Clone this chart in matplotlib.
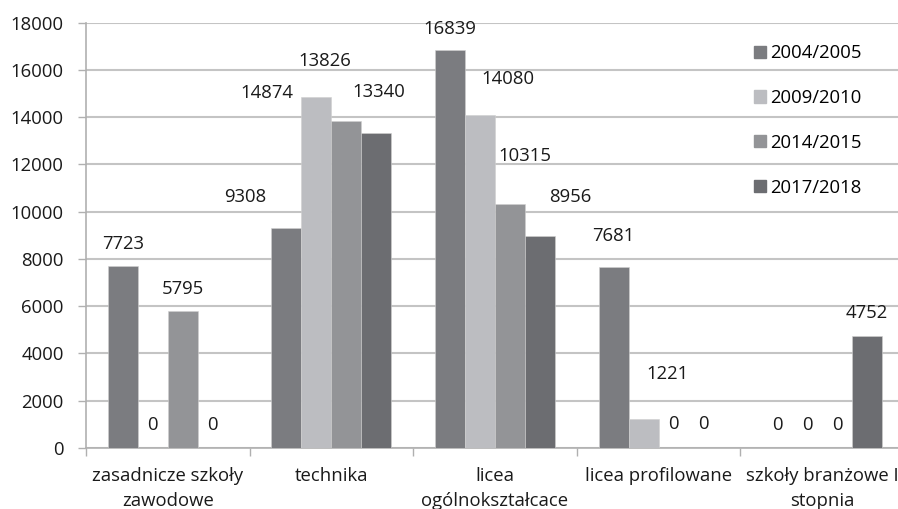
import matplotlib.pyplot as plt
import numpy as np
from matplotlib.patches import Patch

plt.rcParams['font.family'] = ['Open Sans', 'DejaVu Sans']
plt.rcParams['font.size'] = 13.3

categories = ["zasadnicze szkoły\nzawodowe", "technika", "licea\nogólnokształcace",
              "licea profilowane", "szkoły branżowe I\nstopnia"]
years = ["2004/2005", "2009/2010", "2014/2015", "2017/2018"]
v2004 = [7723, 9308, 16839, 7681, 0]
v2009 = [0, 14874, 14080, 1221, 0]
v2014 = [5795, 13826, 10315, 0, 0]
v2017 = [0, 13340, 8956, 0, 4752]

colors = ["#7b7c80", "#bcbdc1", "#939497", "#6c6d71"]
# label offsets (pixels) from the top centre of each bar
label_offsets = [
    [(0, 22), (-41, 31), (0, 21), (0, 31), (0, 23)],
    [(0, 23), (-50, 4), (28, 36), (24, 45), (0, 23)],
    [(0, 22), (-22, 60), (15, 48), (0, 24), (0, 23)],
    [(0, 23), (2, 41), (30, 39), (0, 24), (0, 23)],
]

W, H = 898, 509
fig = plt.figure(figsize=(W / 100, H / 100), dpi=100)
ax = fig.add_axes([86 / W, (H - 448) / H, 818 / W, (448 - 22.7) / H])

series = [v2004, v2009, v2014, v2017]
x = np.arange(len(categories))
width = 0.1833
for j, (vals, col) in enumerate(zip(series, colors)):
    pos = x + (j - 1.5) * width
    ax.bar(pos, vals, width, color=col, edgecolor='#d0d0d0', linewidth=0.4,
           label=years[j], zorder=3)
    for i, v in enumerate(vals):
        dx, dy = label_offsets[j][i]
        ax.annotate(str(v), (pos[i], v), xytext=(dx, dy), textcoords='offset pixels',
                    ha='center', va='center', color='#1a1a1a', zorder=4)

ax.set_xlim(-0.5, 4.5)
ax.set_ylim(0, 18000)
ax.set_yticks(np.arange(0, 18001, 2000))
ax.yaxis.grid(True, color='#c4c4c4', linewidth=1.5)
ax.set_axisbelow(True)

ax.set_xticks(x)
ax.set_xticklabels(categories, linespacing=1.45)
ax.set_xticks(np.arange(-0.5, 5, 1), minor=True)
ax.tick_params(axis='x', which='major', length=0, pad=14, colors='#1a1a1a')
ax.tick_params(axis='x', which='minor', length=6, width=1, color='#b0b0b0')
ax.tick_params(axis='y', length=6, width=1, color='#b0b0b0', pad=10, colors='#1a1a1a')
ax.tick_params(axis='y', color='#b0b0b0')

for s in ['top', 'right']:
    ax.spines[s].set_visible(False)
for s in ['left', 'bottom']:
    ax.spines[s].set_color('#b0b0b0')
    ax.spines[s].set_linewidth(1.2)

handles = [Patch(color=c) for c in colors]
ax.legend(handles, years, loc='upper left', bbox_to_anchor=(745 / W, (H - 35) / H),
          bbox_transform=fig.transFigure, frameon=False, handlelength=0.65,
          handleheight=0.65, handletextpad=0.2, labelspacing=1.45, borderpad=0)

fig.savefig('out.png', dpi=100)
